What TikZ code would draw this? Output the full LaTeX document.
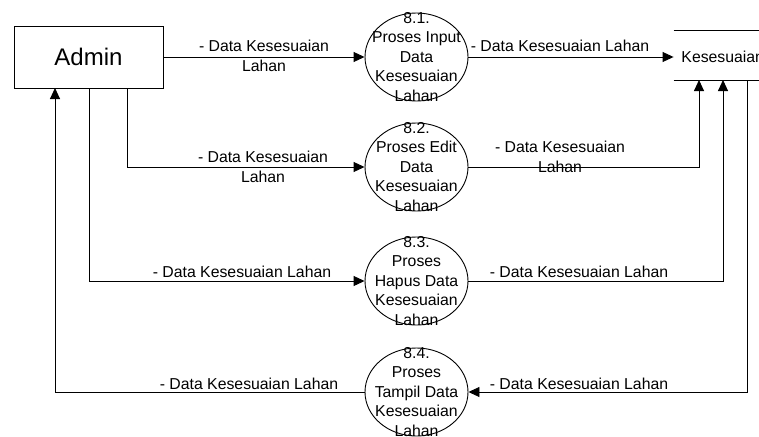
\documentclass[tikz,border=0pt]{standalone}
\usepackage{fontspec}
\setmainfont{Liberation Sans}
\usetikzlibrary{arrows.meta,shapes.geometric}
\begin{document}
\begin{tikzpicture}[x=1pt,y=-1pt,
  line width=0.9pt,
  flow/.style={-{Triangle[length=11pt,width=10pt]}},
  entity/.style={draw, minimum width=149pt, minimum height=62pt, inner sep=0pt,
    font=\fontsize{24}{28}\selectfont},
  proc/.style={draw, ellipse, minimum width=103pt, minimum height=88pt, inner sep=0pt},
  proctext/.style={align=center, inner sep=0pt, font=\fontsize{15.8}{19.5}\selectfont},
  lbl/.style={align=center, inner sep=0pt, font=\fontsize{15.8}{19.5}\selectfont},
]
\useasboundingbox (0,0) rectangle (759,436);
\clip (0,0) rectangle (759,436);

% external entity
\node[entity] (admin) at (88.5,57) {Admin};
\coordinate (a2) at (127,88);
\coordinate (a3) at (89,88);
\coordinate (a4) at (55,88);

% processes
\node[proc] (p1) at (416.5,57) {};
\node[proctext] (p1t) at (p1) {8.1.\\Proses Input\\Data\\Kesesuaian\\Lahan};
\node[proc] (p2) at (416.5,167) {};
\node[proctext] (p2t) at (p2) {8.2.\\Proses Edit\\Data\\Kesesuaian\\Lahan};
\node[proc] (p3) at (416.5,281) {};
\node[proctext] (p3t) at (p3) {8.3.\\Proses\\Hapus Data\\Kesesuaian\\Lahan};
\node[proc] (p4) at (416.5,392) {};
\node[proctext] (p4t) at (p4) {8.4.\\Proses\\Tampil Data\\Kesesuaian\\Lahan};

% data store
\node[minimum width=88pt, minimum height=49pt, inner sep=0pt] (store) at (718,55.5) {};
\draw (store.north west) -- (store.north east);
\draw (store.south west) -- (store.south east);
\node[lbl, anchor=west] (storet) at (681,57) {Kesesuaian};
\coordinate (s2) at (699,80);
\coordinate (s3) at (723,80);
\coordinate (s4) at (747,80);

% flows between admin and processes
\draw[flow] (admin.east) -- (p1.west);
\node[lbl] (l1) at (264,56) {- Data Kesesuaian\\Lahan};
\draw[flow] (a2) |- (p2.west);
\node[lbl] (l2) at (263,167) {- Data Kesesuaian\\Lahan};
\draw[flow] (a3) |- (p3.west);
\node[lbl] (l3) at (242,272) {- Data Kesesuaian Lahan};
\draw[flow] (p4.west) -| (a4);
\node[lbl] (l4) at (249,384) {- Data Kesesuaian Lahan};

% flows between processes and the data store
\draw[flow] (p1.east) -- (p1.east -| store.west);
\node[lbl] (l5) at (560,46) {- Data Kesesuaian Lahan};
\draw[flow] (p2.east) -| (s2);
\node[lbl] (l6) at (560,157) {- Data Kesesuaian\\Lahan};
\draw[flow] (p3.east) -| (s3);
\node[lbl] (l7) at (579,272) {- Data Kesesuaian Lahan};
\draw[flow] (s4) |- (p4.east);
\node[lbl] (l8) at (579,384) {- Data Kesesuaian Lahan};
\end{tikzpicture}
\end{document}
